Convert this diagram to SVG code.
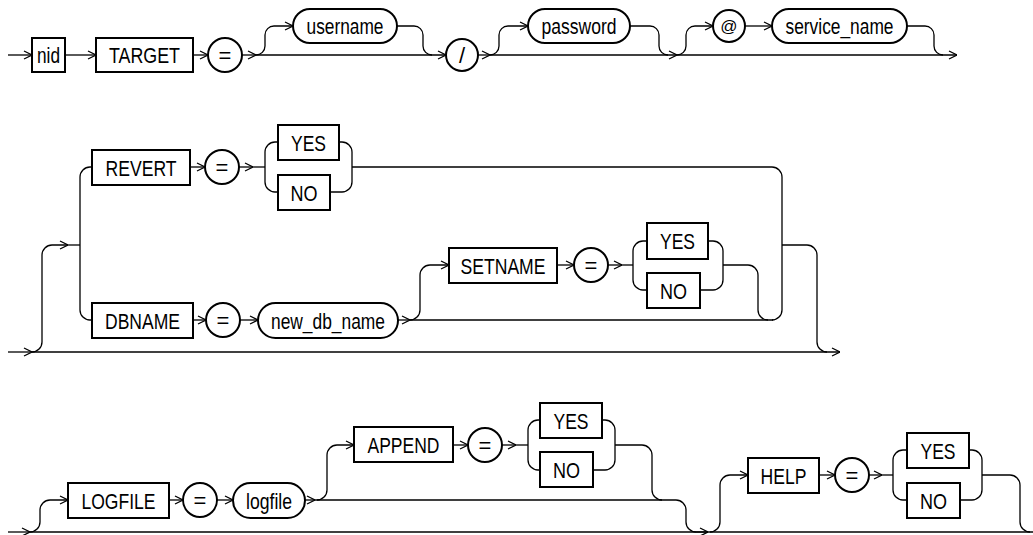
<svg xmlns="http://www.w3.org/2000/svg" width="1033" height="535" viewBox="0 0 1033 535">
<style>
.c{fill:none;stroke:#000;stroke-width:1.3}
.a{marker-end:url(#arr)}
.b{fill:#fff;stroke:#000;stroke-width:2}
.t{font-family:"Liberation Sans Narrow","Liberation Sans",Arial,sans-serif;font-size:22px;fill:#000;text-anchor:middle}
</style>
<defs>
<marker id="arr" markerUnits="userSpaceOnUse" markerWidth="9" markerHeight="10" viewBox="0 0 9 10" refX="9" refY="5" orient="auto">
<path d="M1,1 L9,5 L1,9" fill="none" stroke="#000" stroke-width="1.3"/>
</marker>
</defs>
<rect width="1033" height="535" fill="#fff"/>
<g id="connectors">
<!-- row 1 -->
<path class="c a" d="M8,55 H32"/>
<path class="c a" d="M65,55 H96"/>
<path class="c a" d="M193,55 H208"/>
<path class="c a" d="M242,55 H256"/>
<path class="c a" d="M256,55 H446"/>
<path class="c a" d="M256,55 A9,9 0 0 0 265,46 V35 A9,9 0 0 1 274,26 H293"/>
<path class="c" d="M397,26 H414 A9,9 0 0 1 423,35 V46 A9,9 0 0 0 432,55"/>
<path class="c a" d="M478,55 H490"/>
<path class="c a" d="M490,55 H677"/>
<path class="c a" d="M490,55 A9,9 0 0 0 499,46 V35 A9,9 0 0 1 508,26 H528"/>
<path class="c" d="M630,26 H650 A9,9 0 0 1 659,35 V46 A9,9 0 0 0 668,55"/>
<path class="c a" d="M677,55 H957"/>
<path class="c a" d="M677,55 A9,9 0 0 0 686,46 V35 A9,9 0 0 1 695,26 H713"/>
<path class="c a" d="M745,26 H772"/>
<path class="c" d="M907,26 H925 A9,9 0 0 1 934,35 V46 A9,9 0 0 0 943,55"/>
<!-- row 2 -->
<path class="c a" d="M8,352 H32"/>
<path class="c a" d="M32,352 H840"/>
<path class="c a" d="M32,352 A10,10 0 0 0 42,342 V255 A10,10 0 0 1 52,245 H68"/>
<path class="c" d="M68,245 H80"/>
<path class="c" d="M92,167 H90 A10,10 0 0 0 80,177 V310 A10,10 0 0 0 90,320 H92"/>
<path class="c a" d="M190,167 H205"/>
<path class="c a" d="M239,167 H253"/>
<path class="c" d="M253,167 H265"/>
<path class="c" d="M278,142 H275 A10,10 0 0 0 265,152 V182 A10,10 0 0 0 275,192 H278"/>
<path class="c" d="M339,142 H342 A10,10 0 0 1 352,152 V182 A10,10 0 0 1 342,192 H330"/>
<path class="c" d="M352,167 H772 A10,10 0 0 1 782,177 V310 A10,10 0 0 1 772,320"/>
<path class="c" d="M782,245 H807 A10,10 0 0 1 817,255 V342 A10,10 0 0 0 827,352"/>
<path class="c a" d="M193,320 H206"/>
<path class="c a" d="M240,320 H258"/>
<path class="c a" d="M398,320 H410"/>
<path class="c" d="M410,320 H773"/>
<path class="c a" d="M410,320 A10,10 0 0 0 420,310 V275 A10,10 0 0 1 430,265 H449"/>
<path class="c a" d="M557,265 H574"/>
<path class="c a" d="M608,265 H622"/>
<path class="c" d="M622,265 H633"/>
<path class="c" d="M647,241 H643 A10,10 0 0 0 633,251 V280 A10,10 0 0 0 643,290 H647"/>
<path class="c" d="M708,241 H713 A10,10 0 0 1 723,251 V280 A10,10 0 0 1 713,290 H700"/>
<path class="c" d="M723,265 H748 A10,10 0 0 1 758,275 V310 A10,10 0 0 0 768,320"/>
<!-- row 3 -->
<path class="c a" d="M8,532 H30"/>
<path class="c" d="M30,532 H1033"/>
<path class="c a" d="M30,532 A10,10 0 0 0 40,522 V510 A10,10 0 0 1 50,500 H68"/>
<path class="c a" d="M169,500 H183"/>
<path class="c a" d="M217,500 H233"/>
<path class="c a" d="M305,500 H315"/>
<path class="c" d="M315,500 H676 A10,10 0 0 1 686,510 V522 A10,10 0 0 0 696,532"/>
<path class="c a" d="M317,500 A10,10 0 0 0 327,490 V455 A10,10 0 0 1 337,445 H354"/>
<path class="c a" d="M453,445 H468"/>
<path class="c a" d="M502,445 H516"/>
<path class="c" d="M516,445 H528"/>
<path class="c" d="M540,420 H538 A10,10 0 0 0 528,430 V460 A10,10 0 0 0 538,470 H540"/>
<path class="c" d="M602,420 H605 A10,10 0 0 1 615,430 V460 A10,10 0 0 1 605,470 H593"/>
<path class="c" d="M615,445 H642 A10,10 0 0 1 652,455 V490 A10,10 0 0 0 662,500"/>
<path class="c a" d="M696,532 H708"/>
<path class="c a" d="M710,532 A10,10 0 0 0 720,522 V485 A10,10 0 0 1 730,475 H748"/>
<path class="c a" d="M819,475 H835"/>
<path class="c a" d="M869,475 H882"/>
<path class="c" d="M882,475 H893"/>
<path class="c" d="M907,450 H903 A10,10 0 0 0 893,460 V490 A10,10 0 0 0 903,500 H907"/>
<path class="c" d="M969,450 H972 A10,10 0 0 1 982,460 V490 A10,10 0 0 1 972,500 H960"/>
<path class="c" d="M982,475 H1010 A10,10 0 0 1 1020,485 V522 A10,10 0 0 0 1030,532"/>
</g>
<!-- row 1 nodes -->
<g id="n-nid"><rect class="b" x="32" y="38" width="33" height="34"/><text class="t" x="48.5" y="63" textLength="23" lengthAdjust="spacingAndGlyphs">nid</text></g>
<g id="n-target"><rect class="b" x="96" y="38" width="97" height="34"/><text class="t" x="144.5" y="63" textLength="71" lengthAdjust="spacingAndGlyphs">TARGET</text></g>
<g id="n-eq1"><circle class="b" cx="225" cy="55" r="17"/><text class="t" x="225" y="62.5">=</text></g>
<g id="n-username"><rect class="b" x="293" y="9" width="104" height="34" rx="17"/><text class="t" x="345" y="34" textLength="77" lengthAdjust="spacingAndGlyphs">username</text></g>
<g id="n-slash"><circle class="b" cx="462" cy="55" r="16"/><text class="t" x="462" y="63">/</text></g>
<g id="n-password"><rect class="b" x="528" y="9" width="102" height="34" rx="17"/><text class="t" x="579" y="34" textLength="75" lengthAdjust="spacingAndGlyphs">password</text></g>
<g id="n-at"><circle class="b" cx="729" cy="26" r="16"/><text class="t" x="729" y="32" style="font-size:17px">@</text></g>
<g id="n-service"><rect class="b" x="772" y="9" width="135" height="34" rx="17"/><text class="t" x="839.5" y="34" textLength="108" lengthAdjust="spacingAndGlyphs">service_name</text></g>
<!-- row 2 nodes -->
<g id="n-revert"><rect class="b" x="92" y="150" width="98" height="35"/><text class="t" x="141" y="175.5" textLength="71" lengthAdjust="spacingAndGlyphs">REVERT</text></g>
<g id="n-eq2"><circle class="b" cx="222" cy="167" r="17"/><text class="t" x="222" y="174.5">=</text></g>
<g id="n-yes1"><rect class="b" x="278" y="125" width="61" height="35"/><text class="t" x="308.5" y="150.5" textLength="35" lengthAdjust="spacingAndGlyphs">YES</text></g>
<g id="n-no1"><rect class="b" x="278" y="175" width="52" height="35"/><text class="t" x="304" y="200.5" textLength="27" lengthAdjust="spacingAndGlyphs">NO</text></g>
<g id="n-dbname"><rect class="b" x="92" y="303" width="101" height="35"/><text class="t" x="142.5" y="328.5" textLength="75" lengthAdjust="spacingAndGlyphs">DBNAME</text></g>
<g id="n-eq3"><circle class="b" cx="223" cy="320" r="17"/><text class="t" x="223" y="327.5">=</text></g>
<g id="n-newdb"><rect class="b" x="258" y="303" width="140" height="35" rx="17.5"/><text class="t" x="328" y="328.5" textLength="114" lengthAdjust="spacingAndGlyphs">new_db_name</text></g>
<g id="n-setname"><rect class="b" x="449" y="248" width="108" height="35"/><text class="t" x="503" y="273.5" textLength="85" lengthAdjust="spacingAndGlyphs">SETNAME</text></g>
<g id="n-eq4"><circle class="b" cx="591" cy="265" r="17"/><text class="t" x="591" y="272.5">=</text></g>
<g id="n-yes2"><rect class="b" x="647" y="223" width="61" height="36"/><text class="t" x="677.5" y="249" textLength="35" lengthAdjust="spacingAndGlyphs">YES</text></g>
<g id="n-no2"><rect class="b" x="647" y="273" width="53" height="35"/><text class="t" x="673.5" y="298.5" textLength="27" lengthAdjust="spacingAndGlyphs">NO</text></g>
<!-- row 3 nodes -->
<g id="n-logfile-kw"><rect class="b" x="68" y="483" width="101" height="35"/><text class="t" x="118.5" y="508.5" textLength="74" lengthAdjust="spacingAndGlyphs">LOGFILE</text></g>
<g id="n-eq5"><circle class="b" cx="200" cy="500" r="17"/><text class="t" x="200" y="507.5">=</text></g>
<g id="n-logfile"><rect class="b" x="233" y="483" width="72" height="35" rx="17.5"/><text class="t" x="269" y="508.5" textLength="46" lengthAdjust="spacingAndGlyphs">logfile</text></g>
<g id="n-append"><rect class="b" x="354" y="427" width="99" height="35"/><text class="t" x="403.5" y="452.5" textLength="72" lengthAdjust="spacingAndGlyphs">APPEND</text></g>
<g id="n-eq6"><circle class="b" cx="485" cy="445" r="17"/><text class="t" x="485" y="452.5">=</text></g>
<g id="n-yes3"><rect class="b" x="540" y="403" width="62" height="35"/><text class="t" x="571" y="428.5" textLength="35" lengthAdjust="spacingAndGlyphs">YES</text></g>
<g id="n-no3"><rect class="b" x="540" y="452" width="53" height="35"/><text class="t" x="566.5" y="477.5" textLength="27" lengthAdjust="spacingAndGlyphs">NO</text></g>
<g id="n-help"><rect class="b" x="748" y="458" width="71" height="35"/><text class="t" x="783.5" y="483.5" textLength="46" lengthAdjust="spacingAndGlyphs">HELP</text></g>
<g id="n-eq7"><circle class="b" cx="852" cy="475" r="17"/><text class="t" x="852" y="482.5">=</text></g>
<g id="n-yes4"><rect class="b" x="907" y="433" width="62" height="35"/><text class="t" x="938" y="458.5" textLength="35" lengthAdjust="spacingAndGlyphs">YES</text></g>
<g id="n-no4"><rect class="b" x="907" y="483" width="53" height="35"/><text class="t" x="933.5" y="508.5" textLength="27" lengthAdjust="spacingAndGlyphs">NO</text></g>
</svg>
